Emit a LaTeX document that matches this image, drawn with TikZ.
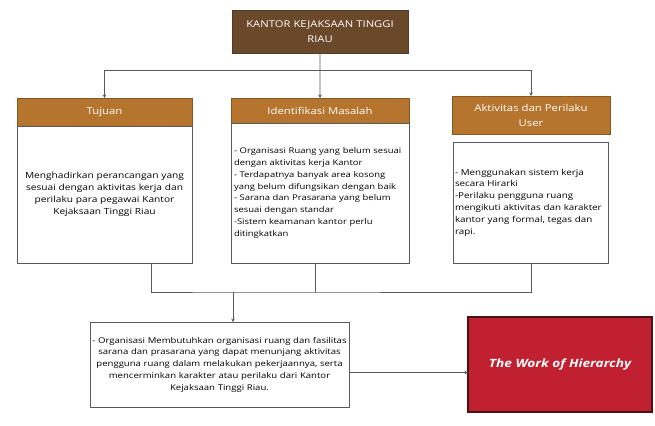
\documentclass[tikz,border=0pt]{standalone}
\usepackage{fontspec}
\setmainfont{Open Sans}[FakeStretch=1.2]
\usetikzlibrary{arrows.meta, positioning}
\definecolor{kantorbrown}{RGB}{106, 73, 42}
\definecolor{headbrown}{RGB}{181, 117, 46}
\definecolor{hierred}{RGB}{192, 32, 48}
\definecolor{hierborder}{RGB}{70, 20, 20}
\definecolor{linegray}{RGB}{90, 90, 90}
\tikzstyle{title}  = [rectangle, minimum width=176bp, minimum height=43bp, text width=172bp,
                      align=center, fill=kantorbrown, draw=kantorbrown!80!black, text=white,
                      inner sep=0pt, outer sep=0pt, font=\fontsize{9.4}{15}\selectfont]
\tikzstyle{header} = [rectangle, fill=headbrown, draw=headbrown!75!black, line width=0.6pt,
                      text=white, align=center, inner sep=0pt, outer sep=0pt,
                      font=\fontsize{9.5}{15}\selectfont]
\tikzstyle{body}   = [rectangle, fill=white, draw=linegray, line width=0.9pt, inner ysep=0pt,
                      inner xsep=3bp, outer sep=0pt, font=\fontsize{7.9}{11.8}\selectfont]
\tikzstyle{result} = [rectangle, fill=hierred, draw=hierborder, line width=1.5pt, text=white,
                      minimum width=184bp, minimum height=95bp, outer sep=0pt,
                      font=\fontsize{11.4}{13}\selectfont\bfseries\itshape]
\tikzstyle{line}   = [draw=linegray, line width=0.8pt]
\tikzstyle{arrow}  = [line, -{Stealth[length=3.5bp, width=3.5bp]}]

\begin{document}
\begin{tikzpicture}[x=1bp, y=-1bp]
  \useasboundingbox (0,0) rectangle (655,425);

  \node (kantor) [title, anchor=north west] at (232,10) {KANTOR KEJAKSAAN TINGGI\\RIAU};

  \node (tujuan) [header, anchor=north west, minimum width=175bp, minimum height=28bp] at (17,98) {Tujuan};
  \node (tujuanbody) [body, below=0bp of tujuan, text width=169bp, minimum height=137bp, align=center,
                      font=\fontsize{8.5}{12}\selectfont]
    {Menghadirkan perancangan yang\\sesuai dengan aktivitas kerja dan\\perilaku para pegawai Kantor\\Kejaksaan Tinggi Riau};

  \node (ident) [header, anchor=north, minimum width=178bp, minimum height=25bp] at (320,98) {Identifikasi Masalah};
  \node (identbody) [body, below=0bp of ident, text width=172bp, minimum height=140bp, align=left]
    {- Organisasi Ruang yang belum sesuai\\dengan aktivitas kerja Kantor\\- Terdapatnya banyak area kosong\\yang belum difungsikan dengan baik\\- Sarana dan Prasarana yang belum\\sesuai dengan standar\\-Sistem keamanan kantor perlu\\ditingkatkan};

  \node (aktiv) [header, anchor=north west, minimum width=158bp, minimum height=38bp] at (452,96) {Aktivitas dan Perilaku\\User};
  \node (aktivbody) [body, below=8bp of aktiv, text width=152bp, inner xsep=1.5bp, minimum height=121bp,
                     align=left, font=\fontsize{8.2}{11.8}\selectfont]
    {- Menggunakan sistem kerja\\secara Hirarki\\-Perilaku pengguna ruang\\mengikuti aktivitas dan karakter\\kantor yang formal, tegas dan\\rapi.};

  \node (hasil) [body, anchor=north west, text width=257bp, inner xsep=1bp, minimum height=85bp,
                 align=center, font=\fontsize{8}{11.8}\selectfont] at (90,322)
    {- Organisasi Membutuhkan organisasi ruang dan fasilitas\\sarana dan prasarana yang dapat menunjang aktivitas\\pengguna ruang dalam melakukan pekerjaannya, serta\\mencerminkan karakter atau perilaku dari Kantor\\Kejaksaan Tinggi Riau.};

  \node (hierarchy) [result, anchor=north west] at (468,317) {The Work of Hierarchy};

  % Connectors
  \coordinate (split) at (320,70);
  \draw [arrow] (kantor.south) -- (ident.north);
  \draw [arrow] (split) -| (tujuan.north);
  \draw [arrow] (split) -| (aktiv.north);

  \coordinate (tujuanout) at ([xshift=47bp]tujuanbody.south);
  \coordinate (identout) at ([xshift=-5bp]identbody.south);
  \coordinate (merge) at (233,292);
  \draw [line] (tujuanout) |- (merge) -| (aktivbody.south);
  \draw [line] (identout) -- (identout |- merge);
  \draw [arrow] (merge) -- (merge |- hasil.north);

  \coordinate (link) at ([yshift=-8bp]hasil.east);
  \draw [arrow] (link) -- (link -| hierarchy.west);
\end{tikzpicture}
\end{document}
